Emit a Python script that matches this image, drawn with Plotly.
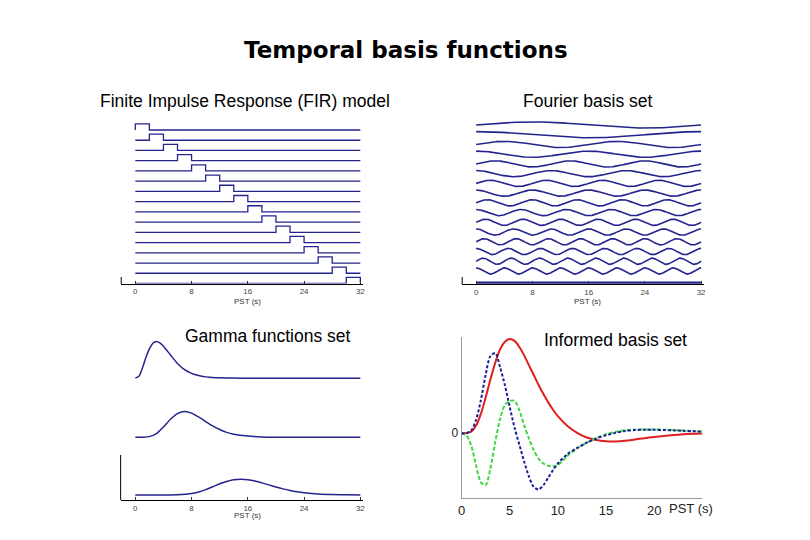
import numpy as np
import plotly.graph_objects as go

W, H = 810, 540

# ---------------- data ----------------
# FIR model: 16 consecutive 2-s bins spanning 0-32 s
fir_bin_edges_s = [0, 2, 4, 6, 8, 10, 12, 14, 16, 18, 20, 22, 24, 26, 28, 30, 32]

# Fourier basis set, listed top to bottom
fourier_kind = ["sin", "cos", "sin", "cos", "sin", "cos", "sin", "cos",
                "sin", "cos", "sin", "cos", "sin", "cos", "sin", "cos", "const"]
fourier_cycles = [1, 1, 2, 2, 3, 3, 4, 4, 5, 5, 6, 6, 7, 7, 8, 8, 0]
fourier_const_level = -0.2

# Gamma functions set (normalised amplitude)
gamma1_t = [0, 0.5, 1, 1.5, 2, 2.5, 3, 3.5, 4, 5, 6, 7, 8, 9, 10, 11, 12, 14, 16, 20, 24, 28, 32]
gamma1_v = [0, 0.05, 0.27, 0.56, 0.80, 0.95, 1.0, 0.96, 0.87, 0.63, 0.40, 0.23, 0.13, 0.07, 0.035,
            0.016, 0.008, 0.002, 0, 0, 0, 0, 0]
gamma2_t = [0, 1, 2, 3, 4, 5, 6, 7, 8, 9, 10, 11, 12, 13, 14, 16, 18, 20, 24, 28, 32]
gamma2_v = [0, 0, 0.025, 0.14, 0.40, 0.70, 0.92, 1.0, 0.94, 0.79, 0.61, 0.44, 0.30, 0.19, 0.12,
            0.045, 0.013, 0.003, 0, 0, 0]
gamma3_t = [0, 2, 4, 6, 8, 9, 10, 11, 12, 13, 14, 15, 16, 17, 18, 19, 20, 21, 22, 23, 24, 26, 28, 30, 32]
gamma3_v = [0, 0, 0, 0.01, 0.09, 0.19, 0.34, 0.52, 0.71, 0.86, 0.96, 1.0, 0.97, 0.89, 0.77, 0.64,
            0.51, 0.39, 0.29, 0.21, 0.15, 0.065, 0.025, 0.01, 0.003]
gamma_amplitude = [1.0, 0.70, 0.43]

# Informed basis set (canonical HRF + temporal & dispersion derivatives)
informed_t = [0, 0.5, 1, 1.5, 2, 2.5, 3, 3.5, 4, 4.5, 5, 5.5, 6, 6.5, 7, 7.5, 8, 8.5, 9, 9.5,
              10, 11, 12, 13, 14, 15, 16, 17, 18, 19, 20, 21, 22, 23, 24, 25]
canonical_v = [0, 0.002, 0.017, 0.08, 0.206, 0.38, 0.574, 0.75, 0.891, 0.97, 1.0, 0.98, 0.915,
               0.826, 0.72, 0.618, 0.513, 0.416, 0.328, 0.25, 0.182, 0.077, 0.004, -0.045,
               -0.072, -0.085, -0.088, -0.08, -0.066, -0.052, -0.039, -0.028, -0.019, -0.011,
               -0.005, -0.001]
temporal_v = [0, 0.0, 0.03, 0.14, 0.35, 0.62, 0.82, 0.85, 0.70, 0.51, 0.28, 0.06, -0.12, -0.30,
              -0.46, -0.57, -0.595, -0.55, -0.47, -0.39, -0.32, -0.22, -0.155, -0.10, -0.055,
              -0.02, 0.005, 0.025, 0.035, 0.037, 0.037, 0.035, 0.032, 0.027, 0.022, 0.018]
dispersion_v = [0, -0.02, -0.13, -0.34, -0.52, -0.55, -0.37, -0.09, 0.155, 0.30, 0.343, 0.343,
                0.244, 0.085, -0.057, -0.18, -0.27, -0.32, -0.345, -0.35, -0.335, -0.24, -0.16,
                -0.10, -0.05, -0.01, 0.015, 0.032, 0.04, 0.041, 0.04, 0.038, 0.034, 0.029,
                0.024, 0.019]

pst_ticks_32 = [0, 8, 16, 24, 32]
pst_ticks_25 = [0, 5, 10, 15, 20]

# ---------------- helpers ----------------
def cal(p0, v0, p1, v1, lo, hi):
    s = (p1 - p0) / (v1 - v0)
    return p0 + (lo - v0) * s, p0 + (hi - v0) * s

def xdom(p0, v0, p1, v1, lo, hi):
    a, b = cal(p0, v0, p1, v1, lo, hi)
    return [a / W, b / W]

def ydom(p0, v0, p1, v1, lo, hi):
    a, b = cal(p0, v0, p1, v1, lo, hi)
    return [1 - a / H, 1 - b / H]

fx = lambda px: px / W
fy = lambda py: 1 - py / H

NAVY = "#24248e"
fig = go.Figure()

# ---------------- FIR panel ----------------
n_bins = len(fir_bin_edges_s) - 1
box_h = 0.6
for i in range(n_bins):
    b = (n_bins - 1) - i
    a0, a1 = fir_bin_edges_s[i], fir_bin_edges_s[i + 1]
    xs = [fir_bin_edges_s[0], a0, a0, a1, a1, fir_bin_edges_s[-1]]
    ys = [b, b, b + box_h, b + box_h, b, b]
    fig.add_trace(go.Scatter(x=xs, y=ys, mode="lines", line=dict(color=NAVY, width=1.3),
                             xaxis="x", yaxis="y", hoverinfo="skip", showlegend=False))

# ---------------- Fourier panel ----------------
tt = np.linspace(0, 32, 401)
n_rows = len(fourier_kind)
amp = 0.32
for r, (kind, k) in enumerate(zip(fourier_kind, fourier_cycles)):
    base = (n_rows - 1) - r
    if kind == "sin":
        yv = base + amp * np.sin(2 * np.pi * k * tt / 32)
    elif kind == "cos":
        yv = base + amp * np.cos(2 * np.pi * k * tt / 32)
    else:
        yv = base + fourier_const_level + 0 * tt
    fig.add_trace(go.Scatter(x=tt, y=yv, mode="lines",
                             line=dict(color=NAVY, width=1.6 if kind != "const" else 2.4),
                             xaxis="x2", yaxis="y2", hoverinfo="skip", showlegend=False))

# ---------------- Gamma panel ----------------
gamma_offsets = [3.32, 1.71, 0.136]
for (gt, gv), a, off in zip([(gamma1_t, gamma1_v), (gamma2_t, gamma2_v), (gamma3_t, gamma3_v)],
                            gamma_amplitude, gamma_offsets):
    fig.add_trace(go.Scatter(x=gt, y=[off + a * v for v in gv], mode="lines",
                             line=dict(color=NAVY, width=1.5, shape="spline", smoothing=0.8),
                             xaxis="x3", yaxis="y3", hoverinfo="skip", showlegend=False))

# ---------------- Informed panel ----------------
fig.add_trace(go.Scatter(x=informed_t, y=canonical_v, mode="lines",
                         line=dict(color="#dd1f1f", width=2, shape="spline", smoothing=0.8),
                         xaxis="x4", yaxis="y4", hoverinfo="skip", showlegend=False))
fig.add_trace(go.Scatter(x=informed_t, y=dispersion_v, mode="lines",
                         line=dict(color="#3fd83f", width=2, dash="4px,2px", shape="spline", smoothing=0.8),
                         xaxis="x4", yaxis="y4", hoverinfo="skip", showlegend=False))
fig.add_trace(go.Scatter(x=informed_t, y=temporal_v, mode="lines",
                         line=dict(color="#1c1c9c", width=2, dash="3px,2px", shape="spline", smoothing=0.8),
                         xaxis="x4", yaxis="y4", hoverinfo="skip", showlegend=False))

# ---------------- axes ----------------
small_tick = dict(size=8, color="#444", family="Liberation Sans")
common_x = dict(showgrid=False, zeroline=False, showline=True, linecolor="black", linewidth=1,
                ticks="inside", ticklen=3, tickcolor="#333", tickvals=pst_ticks_32,
                tickfont=small_tick, fixedrange=True)
hidden_y = dict(visible=False, showgrid=False, zeroline=False, fixedrange=True)

fig.update_layout(
    xaxis=dict(common_x, domain=xdom(132.3, 0, 359, 32, -2, 32.4), range=[-2, 32.4], anchor="y"),
    yaxis=dict(hidden_y, domain=ydom(283.5, 0, 130, 15, 0, 16), range=[0, 16], anchor="x"),
    xaxis2=dict(common_x, domain=xdom(475.7, 0, 702.3, 32, -2, 32.4), range=[-2, 32.4], anchor="y2"),
    yaxis2=dict(hidden_y, domain=ydom(280.7, 0, 125, 16, -0.34, 16.6), range=[-0.34, 16.6], anchor="x2"),
    xaxis3=dict(common_x, domain=xdom(132.3, 0, 359, 32, -2.1, 32.4), range=[-2.1, 32.4], anchor="y3"),
    yaxis3=dict(hidden_y, domain=ydom(500, 0, 463.3, 1, 0, 4.55), range=[0, 4.55], anchor="x3"),
    xaxis4=dict(showgrid=False, zeroline=False, showline=True, linecolor="#999", linewidth=1,
                ticks="", tickvals=pst_ticks_25,
                tickfont=dict(size=13, color="#222", family="Liberation Sans"),
                domain=xdom(461, 0, 655, 20, 0, 25), range=[0, 25], anchor="y4", fixedrange=True),
    yaxis4=dict(showgrid=False, zeroline=False, showline=True, linecolor="#999", linewidth=1,
                ticks="", tickvals=[0], ticktext=["0"],
                tickfont=dict(size=12, color="#222", family="Liberation Sans"),
                domain=ydom(433.3, 0, 339, 1, -0.689, 1.024), range=[-0.689, 1.024],
                anchor="x4", fixedrange=True),
)

# short left axis segments (FIR, Fourier, Gamma)
shapes = []
for px, py0, py1 in [(118.1, 277, 284), (461.6, 277, 284), (117.5, 455, 500)]:
    shapes.append(dict(type="line", xref="paper", yref="paper", x0=fx(px), x1=fx(px),
                       y0=fy(py0), y1=fy(py1), line=dict(color="black", width=1)))
fig.update_layout(shapes=shapes)

# ---------------- texts ----------------
ann = []
def txt(s, px, py, size, bold=False, family="Liberation Sans", color="black"):
    ann.append(dict(text=f"<b>{s}</b>" if bold else s, x=fx(px), y=fy(py), xref="paper", yref="paper",
                    showarrow=False, xanchor="center", yanchor="middle",
                    font=dict(size=size, family=family, color=color)))

txt("Temporal basis functions", 405, 50, 23, bold=True, family="DejaVu Sans")
txt("Finite Impulse Response (FIR) model", 243, 101, 17.5)
txt("Fourier basis set", 588, 101, 17.5)
txt("Gamma functions set", 265, 336, 17.5)
txt("Informed basis set", 616, 340, 17.5)
txt("PST (s)", 245, 301.5, 8, color="#333")
txt("PST (s)", 588, 301.5, 8, color="#333")
txt("PST (s)", 245, 515, 8, color="#333")
txt("PST (s)", 692, 508, 13, color="#222")
fig.update_layout(annotations=ann)

fig.update_layout(width=W, height=H, autosize=False, margin=dict(l=0, r=0, t=0, b=0),
                  paper_bgcolor="white", plot_bgcolor="white", showlegend=False)

fig.write_html("out.html", config={"displayModeBar": False},
               post_script="document.body.style.margin='0px';document.body.style.overflow='hidden';")
